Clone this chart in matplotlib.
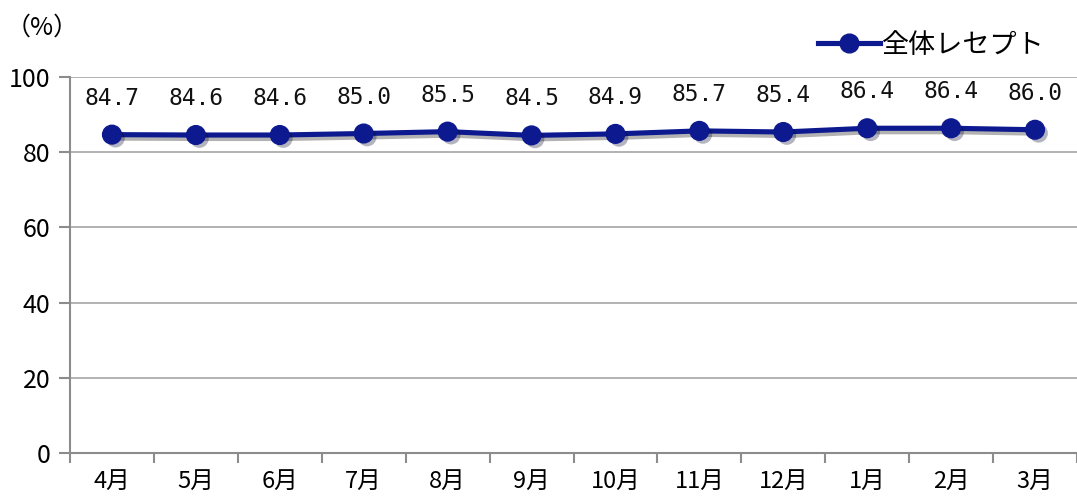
import matplotlib
matplotlib.use("Agg")
import matplotlib.pyplot as plt
import matplotlib.patheffects as pe
from matplotlib.lines import Line2D

# データ
months = ["4月", "5月", "6月", "7月", "8月", "9月", "10月", "11月", "12月", "1月", "2月", "3月"]
rate = [84.7, 84.6, 84.6, 85.0, 85.5, 84.5, 84.9, 85.7, 85.4, 86.4, 86.4, 86.0]
series_name = "全体レセプト"
y_ticks = [0, 20, 40, 60, 80, 100]

plt.rcParams['font.family'] = ['Noto Sans CJK JP', 'DejaVu Sans']

navy = "#0d1a8f"
grid = "#a6a6a6"

fig = plt.figure(figsize=(10.77, 5.01), dpi=100)
ax = fig.add_axes([0.065, 0.096, 0.935, 0.750])

x = list(range(len(months)))
# 線と影
ax.plot(x, rate, "-", color=navy, lw=3.7,
        path_effects=[pe.SimpleLineShadow(offset=(2.5, -2.5), alpha=0.3), pe.Normal()])
# マーカーと影
ax.plot(x, rate, "o", color=navy, ms=13.5,
        path_effects=[pe.SimplePatchShadow(offset=(2.5, -2.5), alpha=0.3), pe.Normal()])

for xi, v in zip(x, rate):
    ax.annotate(f"{v:.1f}", (xi, v), xytext=(0, 18), textcoords="offset points",
                ha="center", va="bottom", fontsize=16.5, family="DejaVu Sans Mono",
                color="#111111")

ax.set_xlim(-0.5, len(months) - 0.5)
ax.set_ylim(0, 100)
ax.set_yticks(y_ticks)
ax.set_xticks(x)
ax.set_xticklabels(months)
ax.set_xticks([i - 0.5 for i in range(len(months) + 1)], minor=True)

ax.grid(axis="y", color=grid, lw=1.2)
ax.set_axisbelow(True)
for s in ["top", "right"]:
    ax.spines[s].set_visible(False)
for s in ["left", "bottom"]:
    ax.spines[s].set_color("#8c8c8c")
    ax.spines[s].set_linewidth(1.5)

ax.tick_params(axis="x", which="major", length=0, pad=12, labelsize=17)
ax.tick_params(axis="x", which="minor", length=7, color="#8c8c8c", width=1.5)
ax.tick_params(axis="y", length=8, color="#8c8c8c", width=1.5, labelsize=18, pad=6)

fig.text(0.005, 0.945, "（%）", fontsize=18, va="center", ha="left")

handle = Line2D([], [], color=navy, lw=3.7, marker="o", ms=13.5)
ax.legend([handle], [series_name], loc="upper right", bbox_to_anchor=(0.978, 1.15),
          frameon=False, fontsize=19.5, handlelength=2.3, handletextpad=0.05,
          borderaxespad=0)

fig.savefig("out.png", dpi=100)
